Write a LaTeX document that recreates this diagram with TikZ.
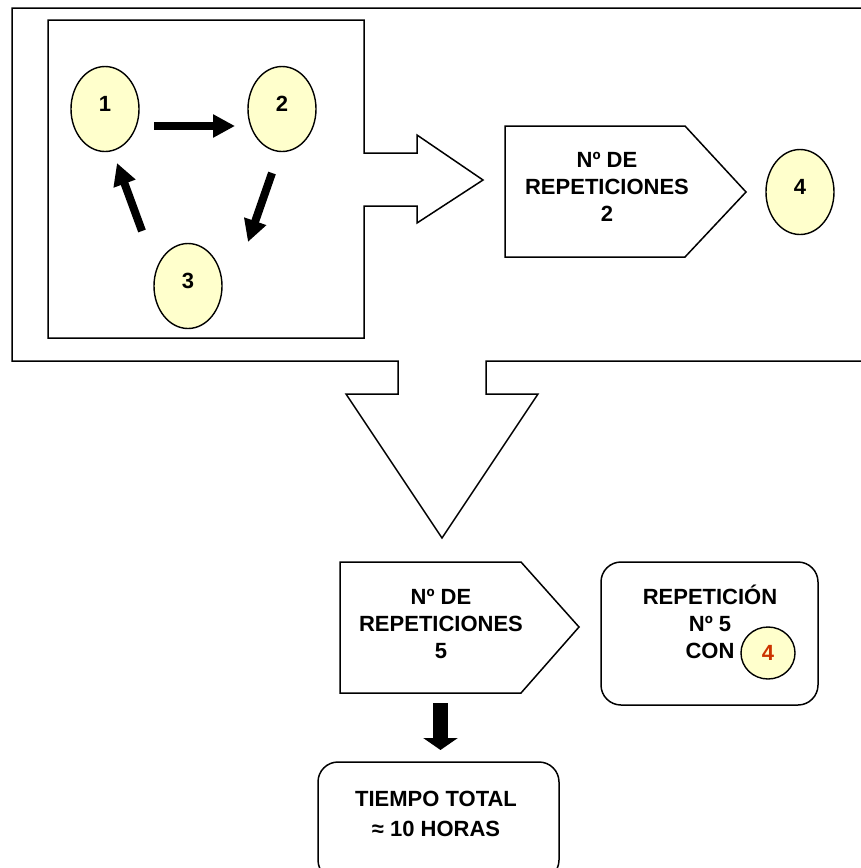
\documentclass[tikz,border=0pt]{standalone}
\usepackage{fontspec}
\setmainfont{Liberation Sans}
\usetikzlibrary{arrows.meta,shapes.geometric,calc}
\definecolor{ellfill}{RGB}{255,255,204}
\definecolor{numred}{RGB}{204,51,0}
\tikzset{
  frame/.style={draw=black, line width=1.5pt, line join=miter},
  ell/.style={ellipse, draw=black, line width=1.4pt, fill=ellfill, minimum width=68pt, minimum height=85pt, inner sep=0pt},
  smallell/.style={ellipse, draw=black, line width=1.4pt, fill=ellfill, minimum width=54pt, minimum height=52pt, inner sep=0pt},
  num/.style={font=\bfseries\fontsize{22}{26}\selectfont, inner sep=0pt, yshift=5.5pt},
  txt/.style={font=\bfseries\fontsize{22}{27}\selectfont, align=center, inner sep=0pt},
  bigarrow/.style={line width=8pt, -{Triangle[width=22pt,length=22pt]}},
  downarrow/.style={line width=15pt, -{Triangle[width=34pt,length=12pt]}},
  rbox/.style={draw=black, line width=1.5pt, rounded corners=20pt},
}
\begin{document}
\begin{tikzpicture}[x=1pt,y=-1pt]
\useasboundingbox (0,0) rectangle (861,868);
\clip (0,0) rectangle (861,868);
\fill[white] (0,0) rectangle (861,868);
% outer frame with down arrow
\draw[frame] (880,8) -- (12,8) -- (12,361) -- (398,361) -- (398,394) -- (346,394)
  -- (442,538) -- (538,394) -- (486,394) -- (486,361) -- (880,361);
% inner box with right arrow
\draw[frame] (48,20) -- (364,20) -- (364,153) -- (417,153) -- (417,135) -- (483,180)
  -- (417,223) -- (417,206) -- (364,206) -- (364,338) -- (48,338) -- cycle;
% ellipses 1,2,3
\node[ell, label={[num]center:1}] (e1) at (105,109) {};
\node[ell, label={[num]center:2}] (e2) at (282,109) {};
\node[ell, label={[num]center:3}] (e3) at (188,286) {};
\coordinate (a12s) at ($(e1)+(49,17)$);
\coordinate (a12e) at ($(e2)+(-47,17)$);
\coordinate (a23s) at ($(e2)+(-10,64)$);
\coordinate (a23e) at ($(e3)+(60,-44)$);
\coordinate (a31s) at ($(e3)+(-46,-55)$);
\coordinate (a31e) at ($(e1)+(12,54)$);
\draw[bigarrow] (a12s) -- (a12e);
\draw[bigarrow] (a23s) -- (a23e);
\draw[bigarrow] (a31s) -- (a31e);
% top pentagon
\draw[frame] (505,126) -- (685,126) -- (746,192) -- (685,257) -- (505,257) -- cycle;
\node[txt] (p1) at (607,187) {Nº DE\\REPETICIONES\\2};
\node[ell, label={[num]center:4}] (e4) at (800,192) {};
% bottom pentagon
\draw[frame] (340,562) -- (521,562) -- (579,627) -- (521,693) -- (340,693) -- cycle;
\node[txt] (p2) at (441,624) {Nº DE\\REPETICIONES\\5};
% right rounded box
\draw[rbox] (601,562) rectangle (818,705);
\node[txt] (r1) at (710,622) {REPETICIÓN\\Nº 5\\CON};
\node[smallell, font=\bfseries\fontsize{22}{26}\selectfont, text=numred] (e5) at (768,653) {4};
% down arrow
\coordinate (dtop) at (440.5,703);
\coordinate (dbot) at (440.5,750);
\draw[downarrow] (dtop) -- (dbot);
% bottom rounded box
\draw[rbox] (318,762) rectangle (559,880);
\node[txt, font=\bfseries\fontsize{22}{30}\selectfont] (t1) at (436,814) {TIEMPO TOTAL\\≈ 10 HORAS};
\end{tikzpicture}
\end{document}
